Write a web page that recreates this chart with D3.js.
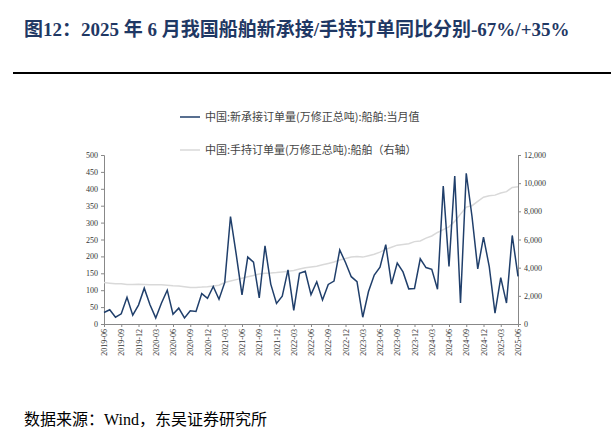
<!DOCTYPE html>
<html>
<head>
<meta charset="utf-8">
<script src="https://cdn.jsdelivr.net/npm/d3@7"></script>
<style>
  body { margin: 0; background: #fff; }
  .axis text { font-family: "Liberation Serif", "Noto Sans CJK SC", serif; font-size: 8px; fill: #333; }
  .axis path, .axis line { stroke: #888; }
</style>
</head>
<body>
<svg id="chart" width="611" height="444"></svg>
<script>
// Data.
const newOrders = [34, 42, 20, 30, 79, 26, 56, 106, 57, 18, 62, 100, 29, 47, 18, 39, 37, 90, 76, 111, 73, 123, 318, 205, 86, 198, 183, 77, 231, 118, 61, 82, 160, 40, 150, 156, 87, 125, 71, 117, 127, 219, 182, 140, 125, 20, 96, 145, 168, 235, 118, 180, 154, 104, 105, 193, 167, 162,
  103, 408, 170, 438, 62, 446, 318, 163, 257, 170, 32, 137, 62, 262, 141];
const holding = [2950, 2900, 2850, 2850, 2800, 2800, 2820,
  2800, 2780, 2780, 2780, 2750, 2720, 2700, 2650, 2600, 2600, 2620, 2650,
  2700, 2750, 2950, 3050, 3150, 3250, 3350, 3450, 3550, 3600, 3620, 3650,
  3700, 3750, 3800, 3900, 4000, 4050, 4100, 4200, 4300, 4400, 4550, 4650,
  4750, 4800, 4750, 4850, 4950, 5100, 5300, 5450, 5600, 5650, 5700, 5850,
  5900, 6100, 6250, 6500, 6700, 6900, 7300, 7800, 8300, 8400, 8700, 9000,
  9100, 9150, 9300, 9400, 9700, 9750];
const months = d3.range(73).map(i => {
  const m = 5 + i;
  return (2019 + Math.floor(m / 12)) + "-" + String(m % 12 + 1).padStart(2, "0");
});
const tickMonths = months.filter((d, i) => i % 3 === 0);
const leftTicks = d3.range(0, 501, 50);
const rightTicks = d3.range(0, 12001, 2000);

const svg = d3.select("#chart");
const plotLeft = 104, plotRight = 518, plotTop = 155, plotBottom = 324;

// Title and rule.
svg.append("text").attr("x", 24).attr("y", 36)
  .style("font-family", "'Liberation Serif', 'Noto Sans CJK SC', serif").style("font-weight", "bold")
  .style("font-size", "19px").style("fill", "#1f3864")
  .text("图12：2025 年 6 月我国船舶新承接/手持订单同比分别-67%/+35%");
svg.append("line").attr("x1", 13).attr("x2", 611).attr("y1", 73).attr("y2", 73)
  .style("stroke", "#000").style("stroke-width", 2);

// Scales.
const x = d3.scalePoint().domain(months).range([plotLeft, plotRight]);
const yL = d3.scaleLinear().domain([0, 500]).range([plotBottom, plotTop]);
const yR = d3.scaleLinear().domain([0, 12000]).range([plotBottom, plotTop]);

// Axes.
svg.append("g").attr("class", "axis").attr("transform", "translate(0," + plotBottom + ")")
  .call(d3.axisBottom(x).tickValues(tickMonths).tickSize(3))
  .selectAll("text").attr("transform", "rotate(-90)").attr("x", -5).attr("y", -3)
  .style("text-anchor", "end");
svg.append("g").attr("class", "axis").attr("transform", "translate(" + plotLeft + ",0)")
  .call(d3.axisLeft(yL).tickValues(leftTicks).tickSize(3));
svg.append("g").attr("class", "axis").attr("transform", "translate(" + plotRight + ",0)")
  .call(d3.axisRight(yR).tickValues(rightTicks).tickSize(3));

// Lines.
svg.append("path").datum(holding)
  .attr("d", d3.line().x((d, i) => x(months[i])).y(d => yR(d)))
  .style("fill", "none").style("stroke", "#d9d9d9").style("stroke-width", 1.5);
svg.append("path").datum(newOrders)
  .attr("d", d3.line().x((d, i) => x(months[i])).y(d => yL(d)))
  .style("fill", "none").style("stroke", "#203f6b").style("stroke-width", 1.5);

// Legend.
const legend = [["中国:新承接订单量(万修正总吨):船舶:当月值", "#203f6b", 117],
                ["中国:手持订单量(万修正总吨):船舶（右轴）", "#d9d9d9", 150]];
legend.forEach(([label, color, ly]) => {
  svg.append("line").attr("x1", 180).attr("x2", 200).attr("y1", ly).attr("y2", ly)
    .style("stroke", color).style("stroke-width", 1.5);
  svg.append("text").attr("x", 205).attr("y", ly + 4)
    .style("font-family", "'Noto Sans CJK SC', sans-serif").style("font-size", "11px").style("fill", "#444")
    .text(label);
});

// Source.
svg.append("text").attr("x", 24).attr("y", 425)
  .style("font-family", "'Liberation Serif', 'Noto Sans CJK SC', serif").style("font-size", "16px").style("fill", "#000")
  .text("数据来源：Wind，东吴证券研究所");
</script>
</body>
</html>
